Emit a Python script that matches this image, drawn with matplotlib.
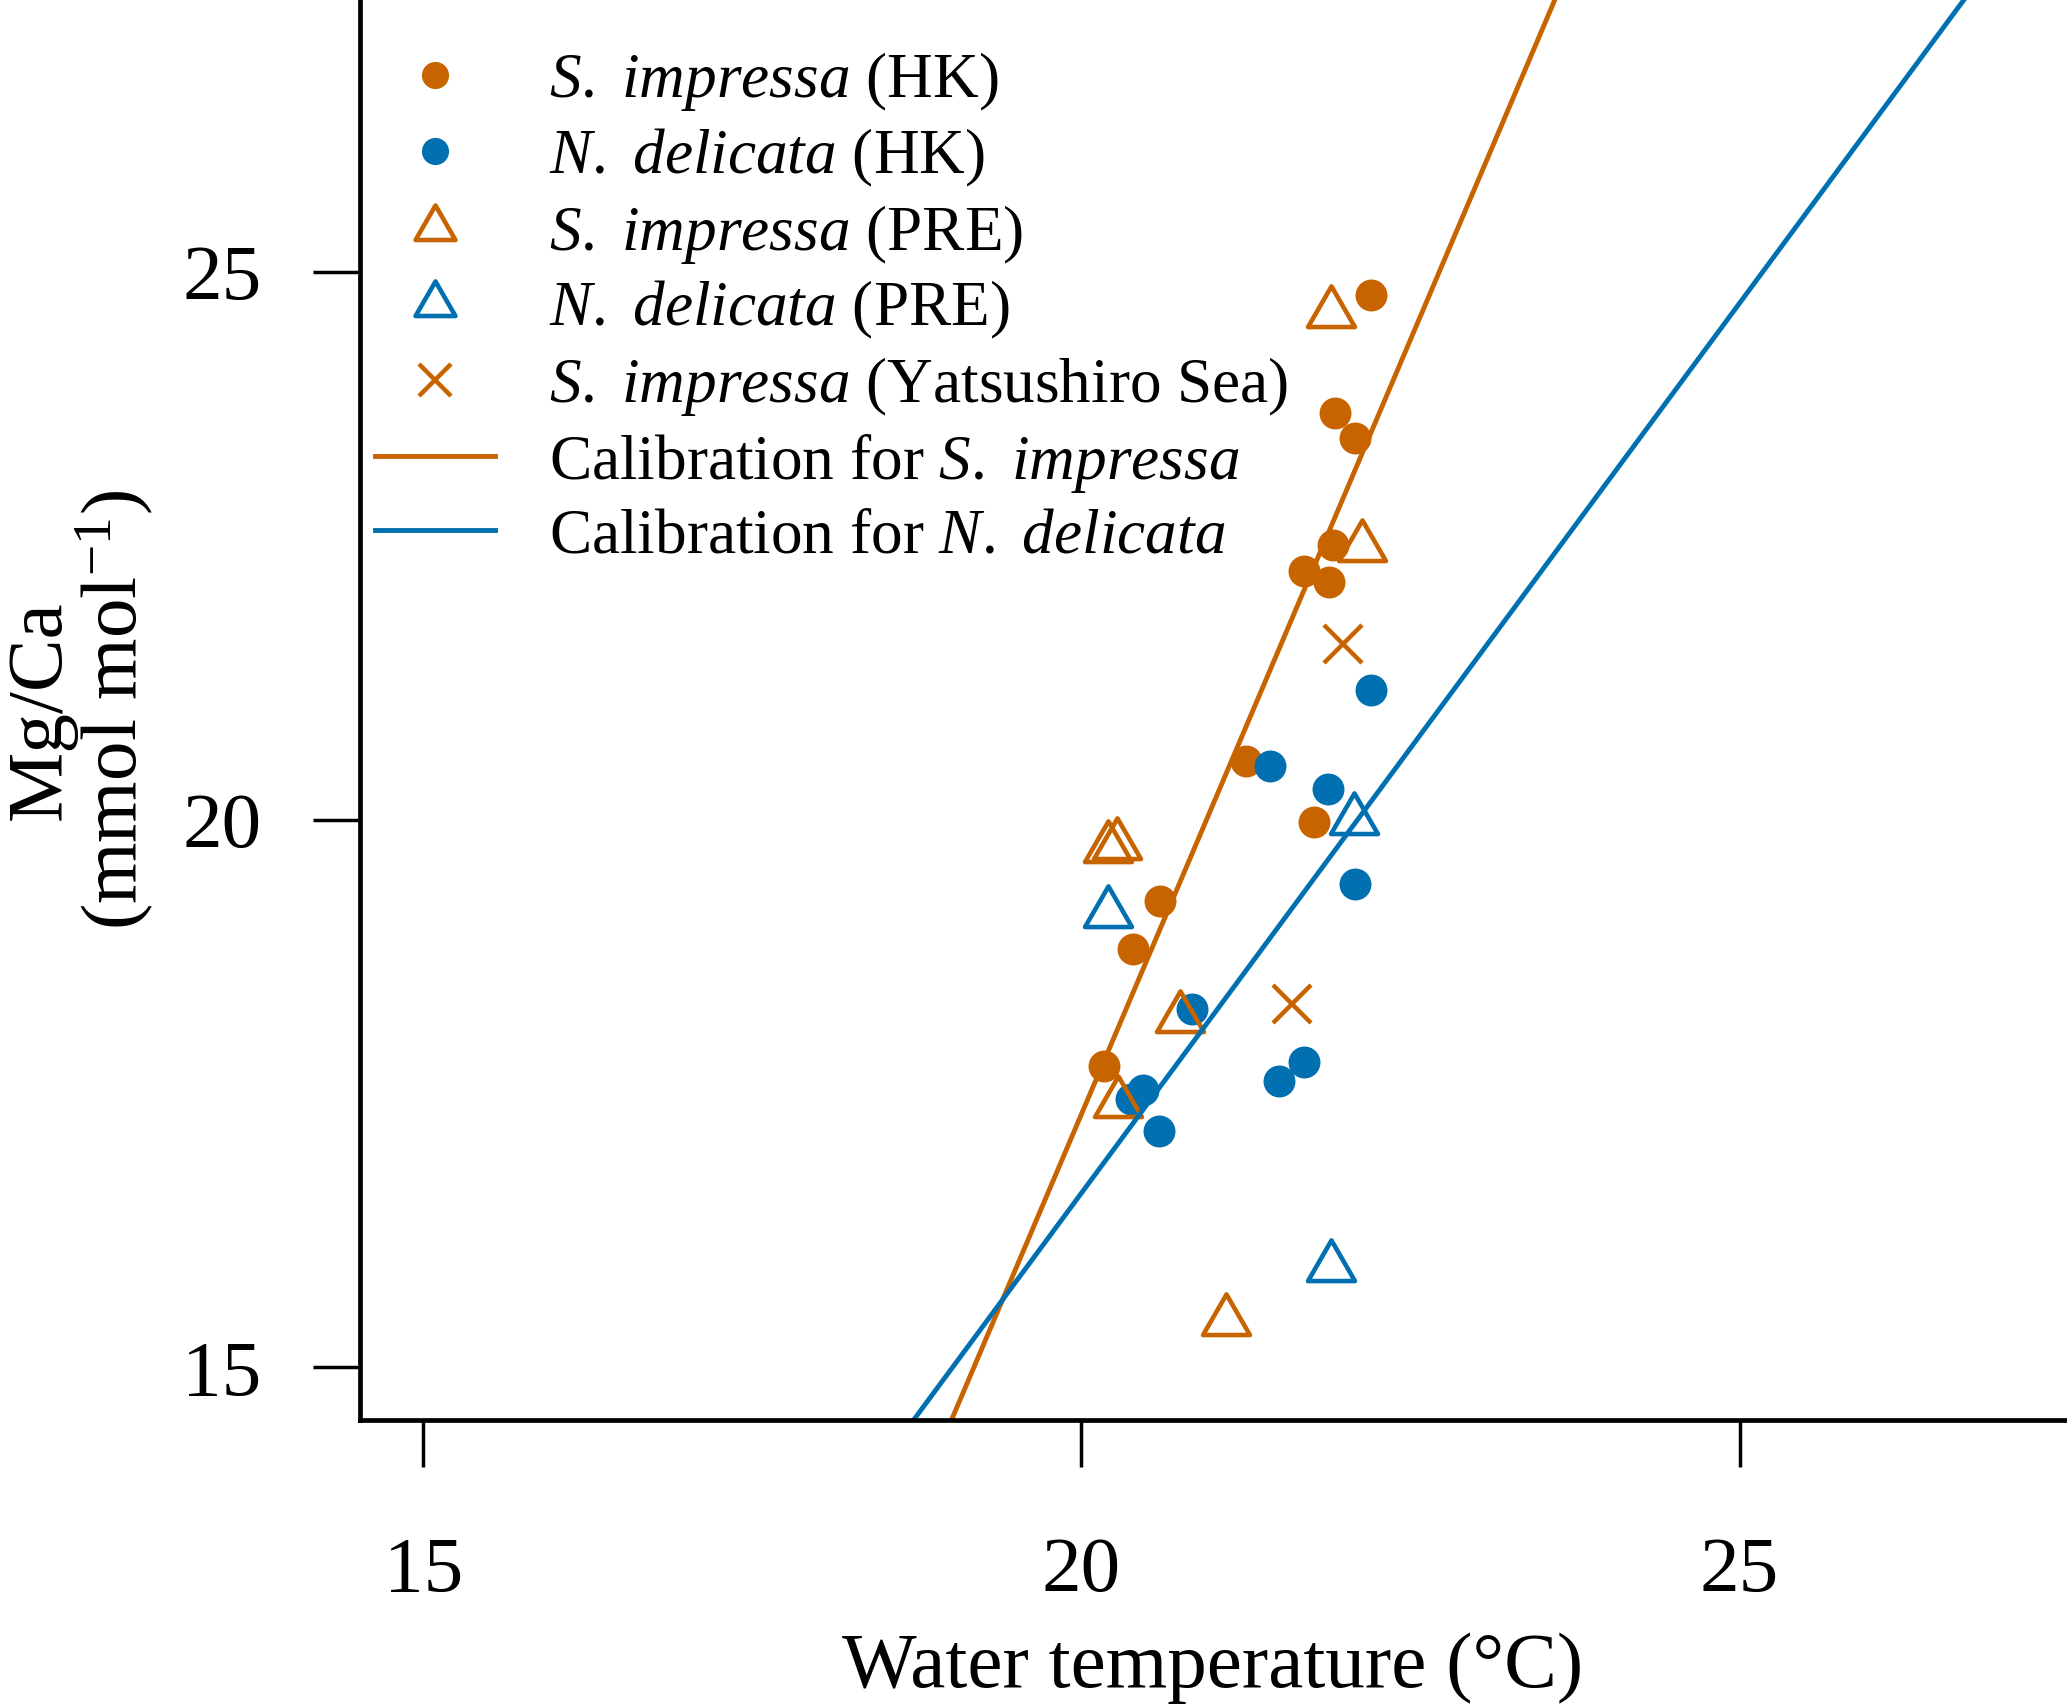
import numpy as np
import matplotlib
matplotlib.use('Agg')
import matplotlib.pyplot as plt
from matplotlib.path import Path

plt.rcParams['font.family'] = ['Liberation Serif', 'DejaVu Serif']
plt.rcParams['mathtext.fontset'] = 'custom'
plt.rcParams['mathtext.rm'] = 'Liberation Serif'
plt.rcParams['mathtext.it'] = 'Liberation Serif:italic'

ORANGE = '#C86400'
BLUE = '#0070B0'

# S. impressa (HK): water temperature (degC) and Mg/Ca (mmol/mol)
si_hk_t = [22.20, 21.93, 22.08, 21.91, 21.69, 21.88, 21.25, 21.77, 20.60, 20.39, 20.17]
si_hk_mg = [24.79, 23.71, 23.48, 22.51, 22.27, 22.17, 20.53, 19.98, 19.26, 18.82, 17.75]

# N. delicata (HK)
nd_hk_t = [22.20, 21.43, 21.87, 22.08, 20.84, 21.69, 21.50, 20.47, 20.38, 20.59]
nd_hk_mg = [21.18, 20.49, 20.28, 19.41, 18.27, 17.79, 17.61, 17.53, 17.45, 17.16]

# S. impressa (PRE)
si_pre_t = [21.90, 22.13, 20.20, 20.27, 20.75, 20.28, 21.10]
si_pre_mg = [24.62, 22.49, 19.74, 19.77, 18.19, 17.41, 15.42]

# N. delicata (PRE)
nd_pre_t = [22.07, 20.20, 21.90]
nd_pre_mg = [20.00, 19.15, 15.92]

# S. impressa (Yatsushiro Sea)
si_ys_t = [21.99, 21.60]
si_ys_mg = [21.60, 18.32]

# calibration lines, Mg/Ca = slope * T + intercept
si_slope, si_icpt = 2.828, -39.25
nd_slope, nd_icpt = 1.6245, -15.90

ticks = [15, 20, 25]

SI = r'$\it{S.}$ $\it{impressa}$'
ND = r'$\it{N.}$ $\it{delicata}$'

tri = Path([(0, 1), (-0.866, -0.5), (0.866, -0.5), (0, 1)], closed=True)

fig = plt.figure(figsize=(20.67, 17.05), dpi=100)
ax = fig.add_axes([0.1742, 0.1672, 0.8253, 0.8328])

ax.plot(si_hk_t, si_hk_mg, ls='none', marker='o', ms=23, mew=0, color=ORANGE,
        label=SI + ' (HK)')
ax.plot(nd_hk_t, nd_hk_mg, ls='none', marker='o', ms=23, mew=0, color=BLUE,
        label=ND + ' (HK)')
ax.plot(si_pre_t, si_pre_mg, ls='none', marker=tri, ms=39, mew=3.3, mfc='none',
        mec=ORANGE, label=SI + ' (PRE)')
ax.plot(nd_pre_t, nd_pre_mg, ls='none', marker=tri, ms=39, mew=3.3, mfc='none',
        mec=BLUE, label=ND + ' (PRE)')
ax.plot(si_ys_t, si_ys_mg, ls='none', marker='x', ms=27, mew=3.2, color=ORANGE,
        label=SI + ' (Yatsushiro Sea)')

ax.axline((0, si_icpt), slope=si_slope, color=ORANGE, lw=3.5,
          label='Calibration for ' + SI)
ax.axline((0, nd_icpt), slope=nd_slope, color=BLUE, lw=3.5,
          label='Calibration for ' + ND)

ax.set_xlim(14.52, 27.48)
ax.set_ylim(14.52, 27.48)
ax.set_xticks(ticks)
ax.set_yticks(ticks)

for s in ['top', 'right']:
    ax.spines[s].set_visible(False)
for s in ['left', 'bottom']:
    ax.spines[s].set_linewidth(3.4)
    ax.spines[s].set_capstyle('projecting')

ax.tick_params(axis='both', direction='out', length=34, width=2.5, labelsize=57)
ax.tick_params(axis='x', pad=50)
ax.tick_params(axis='y', pad=37)

ax.set_xlabel('Water temperature (°C)', fontsize=57)
ax.xaxis.set_label_coords(0.5, -0.150)
ax.set_ylabel('Mg/Ca\n(mmol mol$^{-1}$)', fontsize=57, linespacing=0.95)
ax.yaxis.set_label_coords(-0.120, 0.5)

ax.legend(loc='upper left', bbox_to_anchor=(0.0088, 0.9645), frameon=False,
          fontsize=45.5, handlelength=1.9, handletextpad=0.85, labelspacing=0.215,
          borderpad=0, borderaxespad=0, markerscale=0.85, numpoints=1)

fig.savefig('out.png', dpi=100)
